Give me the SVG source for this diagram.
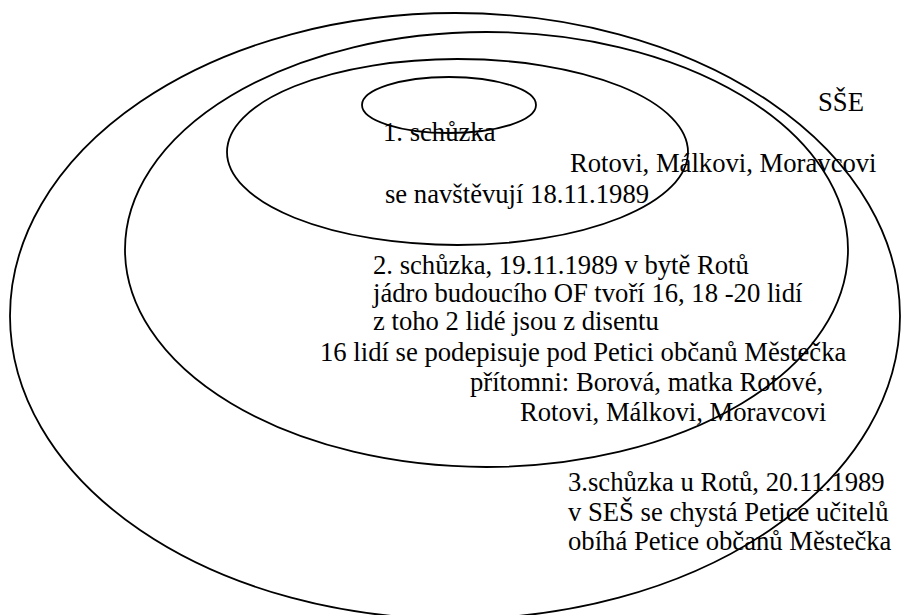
<svg xmlns="http://www.w3.org/2000/svg" width="902" height="615" viewBox="0 0 902 615">
<style>
.ring{fill:none;stroke:#000;stroke-width:1.8}
.t{font-family:"Liberation Serif","Times New Roman",serif;font-size:26.67px;fill:#000}
</style>
<rect width="902" height="615" fill="#fff"/>
<g id="sse">
<ellipse class="ring" cx="455" cy="316" rx="445" ry="303"/>
<text class="t" x="818" y="111">SŠE</text>
</g>
<g id="meeting3">
<ellipse class="ring" cx="486.5" cy="249.5" rx="361.5" ry="217.5"/>
<text class="t" x="568" y="491">3.schůzka u Rotů, 20.11.1989</text>
<text class="t" x="568" y="521">v SEŠ se chystá Petice učitelů</text>
<text class="t" x="568" y="550">obíhá Petice občanů Městečka</text>
</g>
<g id="meeting2">
<ellipse class="ring" cx="457.5" cy="152" rx="230.5" ry="93"/>
<text class="t" x="373" y="274">2. schůzka, 19.11.1989 v bytě Rotů</text>
<text class="t" x="373" y="302">jádro budoucího OF tvoří 16, 18 -20 lidí</text>
<text class="t" x="373" y="330">z toho 2 lidé jsou z disentu</text>
<text class="t" x="320" y="361">16 lidí se podepisuje pod Petici občanů Městečka</text>
<text class="t" x="470" y="391">přítomni: Borová, matka Rotové,</text>
<text class="t" x="520" y="421">Rotovi, Málkovi, Moravcovi</text>
</g>
<g id="meeting1">
<ellipse class="ring" cx="449" cy="105" rx="87" ry="28"/>
<text class="t" x="383" y="141">1. schůzka</text>
<text class="t" x="570" y="172">Rotovi, Málkovi, Moravcovi</text>
<text class="t" x="385" y="203">se navštěvují 18.11.1989</text>
</g>
<g id="connectors"/>
</svg>
